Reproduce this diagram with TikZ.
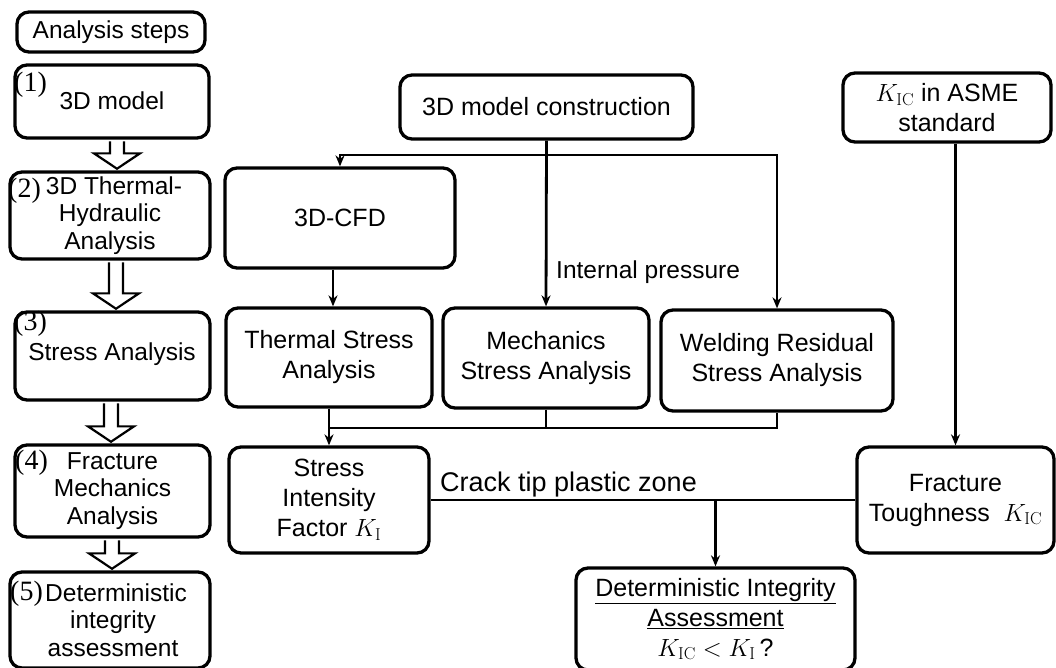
\documentclass[tikz,border=0pt]{standalone}
\usepackage[no-math]{fontspec}
\setmainfont{Liberation Sans}
\newfontfamily\numfont{Liberation Serif}
\usetikzlibrary{arrows.meta,calc}
\newcommand\hollowarrow[3]{%
  \draw[hollow] let \p1=(#1.south), \p2=(#2.north) in
    (#3-7pt,\y1-1.6pt) -- (#3-7pt,\y2+17pt) -- (#3-23pt,\y2+17pt) -- (#3,\y2+1.6pt)
    -- (#3+23pt,\y2+17pt) -- (#3+7pt,\y2+17pt) -- (#3+7pt,\y1-1.6pt);}
\begin{document}
\begin{tikzpicture}[x=1pt,y=-1pt,
  box/.style={draw,line width=3.3pt,rounded corners=12pt,align=center,
    font=\fontsize{25}{30}\selectfont,inner sep=0pt},
  lbox/.style={box,font=\fontsize{24.5}{27.5}\selectfont},
  conn/.style={line width=2.8pt},
  arr/.style={conn,-{Stealth[length=11pt,width=9pt]}},
  hollow/.style={draw,line width=2.2pt,line join=miter},
  num/.style={font=\numfont\fontsize{28}{28}\selectfont,inner sep=0pt,anchor=north west},
  lbl/.style={font=\fontsize{24.5}{29}\selectfont,inner sep=0pt}]
\useasboundingbox (0,0) rectangle (1056,667);

% ---- left column ----
\node[lbox,minimum width=188pt,minimum height=40pt] (steps) at (111,32) {Analysis steps};
\node[lbox,minimum width=194pt,minimum height=73pt] (s1) at (112,101.5) {};
\node[lbl] (s1t) at (112,101) {3D model};
\node[num] (n1) at (14,72) {(1)};
\node[lbox,minimum width=200pt,minimum height=87pt] (s2) at (110,215.5) {\hspace*{8pt}3D Thermal-\\Hydraulic\\Analysis};
\node[num] (n2) at (8,178) {(2)};
\node[lbox,minimum width=195pt,minimum height=88pt] (s3) at (112.5,356) {};
\node[lbl] (s3t) at (112,354) {Stress Analysis};
\node[num] (n3) at (14,311) {(3)};
\node[lbox,minimum width=195pt,minimum height=92pt] (s4) at (112.5,491) {Fracture\\Mechanics\\Analysis};
\node[num] (n4) at (15,450) {(4)};
\node[lbox,minimum width=200pt,minimum height=96pt] (s5) at (110,620) {\hspace*{12pt}Deterministic\\ \hspace*{6pt}integrity\\ \hspace*{6pt}assessment};
\node[num] (n5) at (10,581) {(5)};

\hollowarrow{s1}{s2}{117pt}
\hollowarrow{s2}{s3}{116pt}
\hollowarrow{s3}{s4}{111pt}
\hollowarrow{s4}{s5}{112pt}

% ---- right part ----
\node[box,minimum width=293pt,minimum height=64pt] (build) at (546.5,107) {3D model construction};
\node[box,minimum width=208pt,minimum height=69pt] (asme) at (947,107.5) {$K_{\mathrm{IC}}$ in ASME\\standard};
\node[box,minimum width=230pt,minimum height=100pt] (cfd) at (340,218) {3D-CFD};
\node[box,minimum width=206pt,minimum height=99pt] (thermal) at (329,357.5) {Thermal Stress\\Analysis};
\node[box,minimum width=206pt,minimum height=100pt] (mech) at (546,358) {Mechanics\\Stress Analysis};
\node[box,minimum width=232pt,minimum height=101pt] (weld) at (777,360.5) {Welding Residual\\Stress Analysis};
\node[box,minimum width=200pt,minimum height=106pt] (sif) at (329,500) {Stress\\Intensity\\Factor $K_{\mathrm{I}}$};
\node[box,minimum width=197pt,minimum height=106pt] (ft) at (955.5,500) {Fracture\\Toughness\ \ $K_{\mathrm{IC}}$};
\node[box,minimum width=279pt,minimum height=102pt] (det) at (715.5,619)
  {\underline{Deterministic Integrity}\\\underline{Assessment}\\$K_{\mathrm{IC}} < K_{\mathrm{I}}$\,?};

\node[lbl,anchor=west] (ip) at (556,272) {Internal pressure};
\node[font=\fontsize{27}{29}\selectfont,inner sep=0pt,anchor=base west] (ctp) at (440,491) {Crack tip plastic zone};

% connectors
\coordinate (j1) at (547,155);
\coordinate (x333) at (333,0);
\coordinate (m) at (329,428);
\draw[arr] (build.south) -- (mech.north);
\draw[arr] (j1) -| (cfd.north);
\draw[arr] (j1) -| (weld.north);
\draw[arr] (x333 |- cfd.south) -- (x333 |- thermal.north);
\draw[arr] (thermal.south) -- (sif.north);
\draw[conn] (mech.south) -- (mech.south |- m);
\draw[conn] (weld.south) |- (m);
\draw[arr] (ft.north |- asme.south) -- (ft.north);
\draw[conn] (sif.east) -- (ft.west);
\draw[arr] (sif.east -| det.north) -- (det.north);
\end{tikzpicture}
\end{document}
